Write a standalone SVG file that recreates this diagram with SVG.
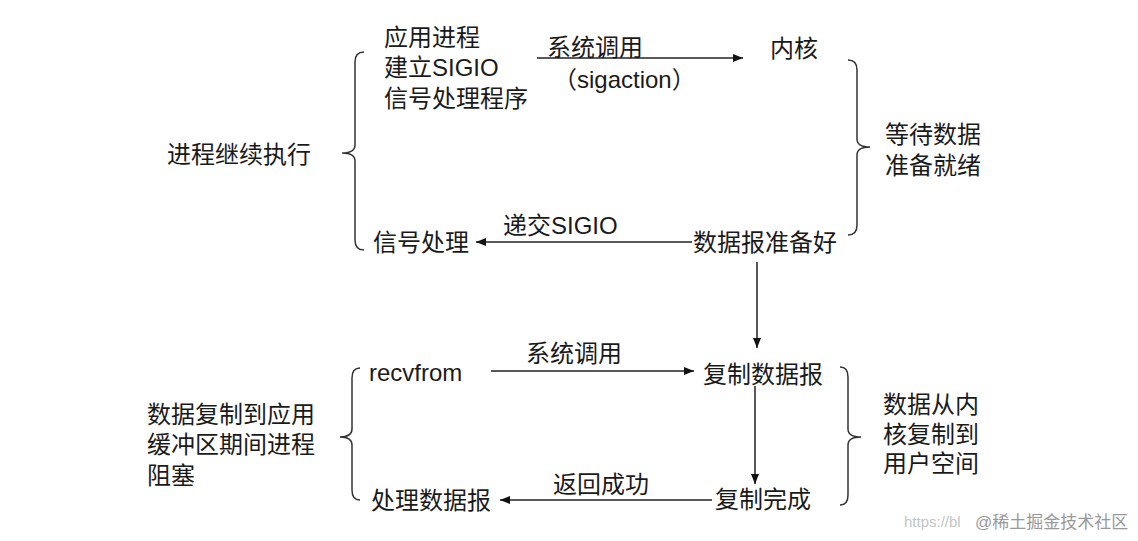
<svg xmlns="http://www.w3.org/2000/svg" width="1138" height="541" viewBox="0 0 1138 541">
<defs>
<marker id="ah" markerWidth="10" markerHeight="8" refX="10" refY="4" orient="auto" markerUnits="userSpaceOnUse"><path d="M0,0 L10,4 L0,8 Z" fill="#111"/></marker>
<style>
text{font-family:"Liberation Sans","Noto Sans CJK SC",sans-serif;font-size:24px;fill:#1a1a1a}
.ln{stroke:#222;stroke-width:1.5;fill:none}
.br{stroke:#333;stroke-width:1.5;fill:none}
.wm{font-size:15px;fill:#c4c4c4}
</style>
</defs>
<rect width="1138" height="541" fill="#fff"/>
<g id="connectors">
<line class="ln" x1="537" y1="58" x2="743" y2="58" marker-end="url(#ah)"/>
<line class="ln" x1="692" y1="242" x2="476" y2="242" marker-end="url(#ah)"/>
<line class="ln" x1="757" y1="262" x2="757" y2="348" marker-end="url(#ah)"/>
<line class="ln" x1="491" y1="371" x2="694" y2="371" marker-end="url(#ah)"/>
<line class="ln" x1="755" y1="386" x2="755" y2="484" marker-end="url(#ah)"/>
<line class="ln" x1="712" y1="500" x2="500" y2="500" marker-end="url(#ah)"/>
<text x="547" y="56">系统调用</text>
<text x="553" y="88">（sigaction）</text>
<text x="503" y="234">递交SIGIO</text>
<text x="526" y="362">系统调用</text>
<text x="553" y="493">返回成功</text>
</g>
<g id="braces">
<path class="br" d="M364,52 Q355,52 355,62 L355,145 Q355,153 342,153 Q355,153 355,161 L355,240 Q355,250 364,250"/>
<path class="br" d="M848,60 Q857,60 857,70 L857,139 Q857,147 870,147 Q857,147 857,155 L857,225 Q857,235 848,235"/>
<path class="br" d="M360,368 Q352,368 352,378 L352,429 Q352,437 340,437 Q352,437 352,445 L352,490 Q352,500 360,500"/>
<path class="br" d="M840,367 Q848,367 848,377 L848,429 Q848,437 861,437 Q848,437 848,445 L848,495 Q848,505 840,505"/>
</g>
<g id="n-app"><text x="384" y="46">应用进程</text><text x="384" y="76">建立SIGIO</text><text x="384" y="107">信号处理程序</text></g>
<g id="n-kernel"><text x="770" y="57">内核</text></g>
<g id="n-wait"><text x="885" y="143">等待数据</text><text x="885" y="174">准备就绪</text></g>
<g id="n-continue"><text x="167" y="163">进程继续执行</text></g>
<g id="n-sighandle"><text x="373" y="251">信号处理</text></g>
<g id="n-ready"><text x="693" y="251">数据报准备好</text></g>
<g id="n-recvfrom"><text x="369" y="381">recvfrom</text></g>
<g id="n-copy"><text x="703" y="383">复制数据报</text></g>
<g id="n-done"><text x="715" y="508">复制完成</text></g>
<g id="n-process"><text x="371" y="509">处理数据报</text></g>
<g id="n-block"><text x="147" y="423">数据复制到应用</text><text x="147" y="453">缓冲区期间进程</text><text x="147" y="484">阻塞</text></g>
<g id="n-kcopy"><text x="883" y="413">数据从内</text><text x="883" y="443">核复制到</text><text x="883" y="472">用户空间</text></g>
<text class="wm" x="904" y="527">https://bl</text>
<text class="wm" x="975" y="528" style="font-size:17px;fill:#999">@稀土掘金技术社区</text>
</svg>
